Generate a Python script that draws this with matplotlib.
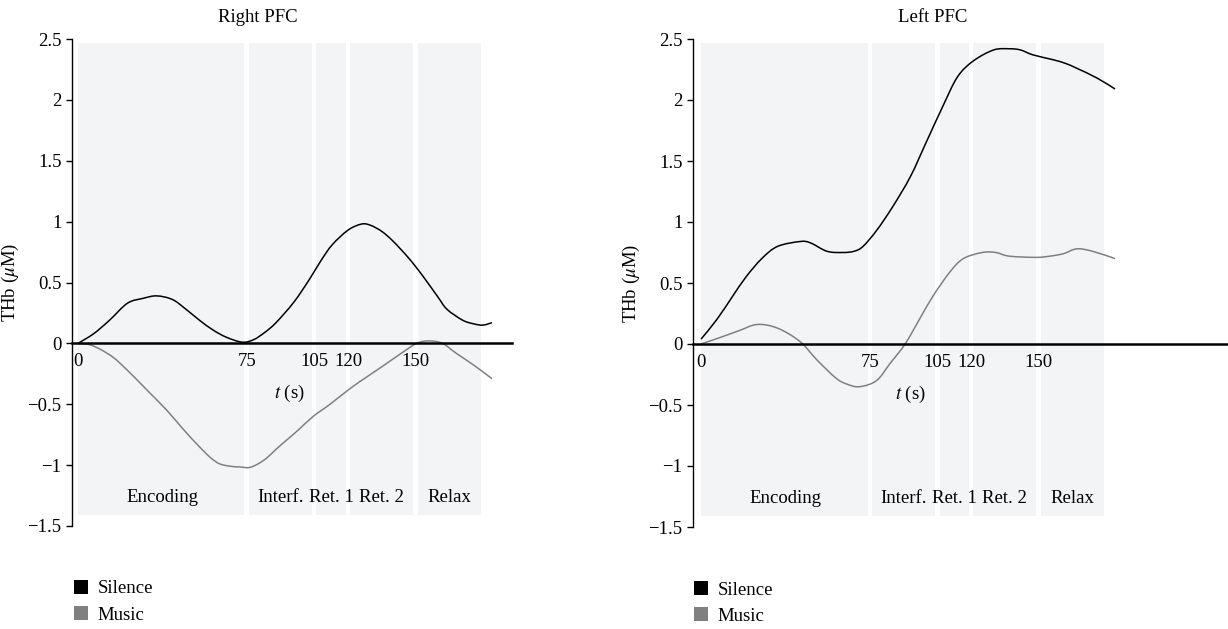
import matplotlib
matplotlib.use("Agg")
import matplotlib.pyplot as plt
from matplotlib.patches import Patch, PathPatch
from matplotlib.path import Path
from matplotlib.ticker import FuncFormatter

plt.rcParams['font.family'] = ['Liberation Serif', 'DejaVu Serif']
plt.rcParams['mathtext.fontset'] = 'stix'

# phases of the task (s)
PHASE_EDGES = [0, 75, 105, 120, 150, 180]
PHASE_NAMES = ["Encoding", "Interf.", "Ret. 1", "Ret. 2", "Relax"]
X_TICKS = [0, 75, 105, 120, 150]
Y_TICKS = [-1.5, -1, -0.5, 0, 0.5, 1, 1.5, 2, 2.5]

# Right PFC
right_sil_t = [0, 7, 14, 22, 29, 35, 42, 48, 54, 60, 66, 73, 78, 83, 88, 96,
               103, 108, 113, 120, 126, 130, 135, 140, 147, 153, 160, 164, 171, 176, 180, 184]
right_sil_v = [0.0, 0.08, 0.19, 0.33, 0.37, 0.39, 0.36, 0.28, 0.19, 0.11, 0.05, 0.01, 0.03, 0.09, 0.17, 0.34,
               0.53, 0.68, 0.81, 0.93, 0.98, 0.97, 0.92, 0.84, 0.70, 0.56, 0.38, 0.28, 0.19, 0.16, 0.15, 0.17]
right_mus_t = [0, 5, 10, 16, 23, 31, 39.5, 47, 54, 59, 63, 68, 72, 76, 80, 84, 88, 93,
               98, 104.5, 112, 121, 128, 136, 143, 150.5, 156, 162, 168, 176, 184]
right_mus_v = [0.0, -0.01, -0.05, -0.12, -0.24, -0.39, -0.55, -0.71, -0.85, -0.94, -0.99, -1.01, -1.015, -1.02, -0.99, -0.94, -0.87, -0.79,
               -0.71, -0.60, -0.50, -0.37, -0.28, -0.18, -0.09, 0.0, 0.02, 0.0, -0.08, -0.18, -0.29]

# Left PFC
left_sil_t = [0, 7, 14, 20, 27, 34, 44, 48.5, 56, 63, 68, 72, 78, 85, 93, 100,
              107.5, 114, 121, 130, 137, 142, 147.5, 156.5, 162, 167, 176, 184]
left_sil_v = [0.04, 0.20, 0.39, 0.55, 0.70, 0.80, 0.84, 0.83, 0.76, 0.75, 0.76, 0.80, 0.93, 1.12, 1.37, 1.65,
              1.95, 2.19, 2.32, 2.41, 2.42, 2.41, 2.37, 2.33, 2.30, 2.26, 2.18, 2.09]
left_mus_t = [0, 8, 17, 25, 34, 44, 51.5, 60, 65, 70.5, 78, 84, 90.7, 97, 103,
              110.6, 116.6, 125, 131, 137, 149, 155, 161, 167, 174, 184]
left_mus_v = [0.0, 0.05, 0.11, 0.16, 0.13, 0.02, -0.13, -0.28, -0.33, -0.35, -0.30, -0.16, 0.0, 0.20, 0.39,
              0.59, 0.70, 0.75, 0.75, 0.72, 0.71, 0.72, 0.74, 0.78, 0.76, 0.70]

SIL_COLOR = "black"
MUS_COLOR = "#808080"
BAND_COLOR = "#f3f4f6"
FS = 13.5


def minus_fmt(v, pos):
    return ("%g" % v).replace("-", "\u2212")


def smooth_path(xs, ys):
    # Catmull-Rom style bezier through the read points (drawing only)
    pts = list(zip(xs, ys))
    verts = [pts[0]]
    codes = [Path.MOVETO]
    n = len(pts)
    for i in range(n - 1):
        p0 = pts[i - 1] if i > 0 else pts[i]
        p1 = pts[i]
        p2 = pts[i + 1]
        p3 = pts[i + 2] if i + 2 < n else pts[i + 1]
        c1 = (p1[0] + (p2[0] - p0[0]) / 6, p1[1] + (p2[1] - p0[1]) / 6)
        c2 = (p2[0] - (p3[0] - p1[0]) / 6, p2[1] - (p3[1] - p1[1]) / 6)
        verts += [c1, c2, p2]
        codes += [Path.CURVE4] * 3
    return Path(verts, codes)


def draw_panel(ax, title, sil_t, sil_v, mus_t, mus_v, xlim, title_x, xlabel_x):
    for i, name in enumerate(PHASE_NAMES):
        s, e = PHASE_EDGES[i], PHASE_EDGES[i + 1]
        x0 = s if i == 0 else s + 1
        ax.axvspan(x0, e - 1, ymin=(-1.41 + 1.5) / 4, ymax=(2.47 + 1.5) / 4,
                   color=BAND_COLOR, lw=0, zorder=0)
        ax.text((s + e) / 2, -1.27, name, ha='center', va='center', fontsize=FS)

    for t, v, c in [(sil_t, sil_v, SIL_COLOR), (mus_t, mus_v, MUS_COLOR)]:
        ax.add_patch(PathPatch(smooth_path(t, v), facecolor='none',
                               edgecolor=c, lw=1.1, zorder=3))

    ax.set_xlim(*xlim)
    ax.set_ylim(-1.5, 2.5)
    ax.spines['top'].set_visible(False)
    ax.spines['right'].set_visible(False)
    ax.spines['bottom'].set_position(('data', 0))
    ax.spines['bottom'].set_linewidth(1.8)
    ax.spines['bottom'].set_zorder(4)
    ax.spines['left'].set_linewidth(1.0)

    ax.set_xticks(X_TICKS)
    ax.set_xticklabels([str(t) for t in X_TICKS])
    ax.tick_params(axis='x', length=0, pad=7, labelsize=FS)
    ax.set_yticks(Y_TICKS)
    ax.yaxis.set_major_formatter(FuncFormatter(minus_fmt))
    ax.tick_params(axis='y', length=4.5, width=1.0, pad=3, labelsize=FS)

    ax.set_ylabel(r"THb ($\mu$M)", fontsize=FS, labelpad=5)
    ax.text(xlabel_x, -0.41, r"$t$ (s)", ha='center', va='center', fontsize=FS)
    ax.text(title_x, 2.68, title, ha='center', va='center', fontsize=FS,
            clip_on=False)

    handles = [Patch(facecolor=SIL_COLOR, edgecolor='none', label="Silence"),
               Patch(facecolor=MUS_COLOR, edgecolor='none', label="Music")]
    ax.legend(handles=handles, loc='upper left', bbox_to_anchor=(-0.012, -0.095),
              frameon=False, fontsize=FS, handlelength=0.75, handleheight=0.8,
              handletextpad=0.5, labelspacing=0.45, borderaxespad=0)


fig = plt.figure(figsize=(12.28, 6.29), dpi=100)
ax1 = fig.add_axes([72 / 1228, 1 - 526 / 629, 440 / 1228, 487 / 629])
ax2 = fig.add_axes([693 / 1228, 1 - 527 / 629, 535 / 1228, 488 / 629])

draw_panel(ax1, "Right PFC", right_sil_t, right_sil_v, right_mus_t, right_mus_v,
           (-2.67, 192.9), 80, 94)
draw_panel(ax2, "Left PFC", left_sil_t, left_sil_v, left_mus_t, left_mus_v,
           (-3.56, 234.2), 103, 93)

fig.savefig("out.png", dpi=100)
